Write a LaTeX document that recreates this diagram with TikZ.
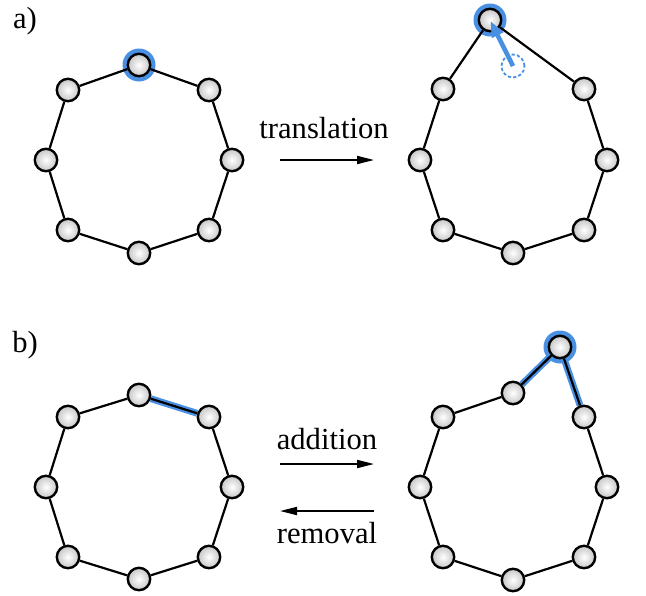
\documentclass[tikz,border=0pt]{standalone}
\usepackage{fontspec}
\setmainfont{Liberation Serif}
\usetikzlibrary{arrows.meta}
\definecolor{hblue}{RGB}{74,144,226}
\pgfdeclarelayer{bgzero}
\pgfdeclarelayer{bgone}
\pgfsetlayers{bgzero,bgone,main}
\begin{document}
\begin{tikzpicture}[x=0.5pt,y=-0.5pt,
  bead/.style={circle, draw=black, line width=1.2pt, minimum size=11.2pt, inner sep=0pt, inner color=white, outer color=gray!45},
  halo/.style={circle, fill=hblue, minimum size=16.5pt, inner sep=0pt},
  ghost/.style={circle, draw=hblue, dash pattern=on 1.6pt off 1.1pt, line width=0.9pt, minimum size=11.5pt, inner sep=0pt},
  link/.style={line width=1.1pt},
  hlink/.style={line width=3.4pt, draw=hblue},
  move/.style={line width=2.3pt, draw=hblue, -{Triangle[length=8pt,width=6pt]}, shorten >=0.5pt},
  op/.style={line width=0.9pt, -{Triangle[length=8.5pt,width=4pt]}},
  lab/.style={font=\fontsize{15.3}{18}\selectfont, inner sep=0pt}]
\useasboundingbox (0,0) rectangle (646,595);

% labels
\node[lab] (la) at (25,21) {a)};
\node[lab] (lb) at (25,345) {b)};

% ---------- a) left ----------
\foreach \n/\x/\y in {1/139/65,2/209/90,3/232/160,4/209/230,5/139/253,6/68/230,7/46/160,8/68/90}
  \node[bead] (A\n) at (\x,\y) {};
\begin{pgfonlayer}{bgzero}
  \node[halo] (hA) at (A1) {};
\end{pgfonlayer}
\begin{pgfonlayer}{bgone}
  \draw[link] (A1)--(A2)--(A3)--(A4)--(A5)--(A6)--(A7)--(A8)--(A1);
\end{pgfonlayer}

% ---------- a) right ----------
\foreach \n/\x/\y in {1/490/20,2/584/89,3/607/160,4/584/230,5/513/253,6/443/230,7/420/160,8/443/89}
  \node[bead] (B\n) at (\x,\y) {};
\node[ghost] (g) at (513,66) {};
\begin{pgfonlayer}{bgzero}
  \node[halo] (hB) at (B1) {};
\end{pgfonlayer}
\begin{pgfonlayer}{bgone}
  \draw[link] (B1)--(B2)--(B3)--(B4)--(B5)--(B6)--(B7)--(B8)--(B1);
\end{pgfonlayer}
\draw[move] (g.center) -- (B1.center);

% translation arrow
\coordinate (t1) at (280,160);
\coordinate (t2) at (374,160);
\draw[op] (t1) -- (t2);
\node[lab] (tt) at (324,128) {translation};

% ---------- b) left ----------
\foreach \n/\x/\y in {1/139/395,2/209/417,3/232/487,4/209/557,5/139/579,6/68/557,7/46/487,8/68/417}
  \node[bead] (C\n) at (\x,\y) {};
\begin{pgfonlayer}{bgzero}
  \draw[hlink] (C1) -- (C2);
\end{pgfonlayer}
\begin{pgfonlayer}{bgone}
  \draw[link] (C1)--(C2)--(C3)--(C4)--(C5)--(C6)--(C7)--(C8)--(C1);
\end{pgfonlayer}

% ---------- b) right ----------
\foreach \n/\x/\y in {0/560/347,1/513/393,2/584/417,3/607/487,4/584/557,5/513/580,6/443/557,7/420/487,8/443/417}
  \node[bead] (D\n) at (\x,\y) {};
\begin{pgfonlayer}{bgzero}
  \node[halo] (hD) at (D0) {};
  \draw[hlink] (D1) -- (D0) -- (D2);
\end{pgfonlayer}
\begin{pgfonlayer}{bgone}
  \draw[link] (D1)--(D0)--(D2)--(D3)--(D4)--(D5)--(D6)--(D7)--(D8)--(D1);
\end{pgfonlayer}

% addition / removal arrows
\coordinate (p1) at (280,464);
\coordinate (p2) at (374,464);
\coordinate (q1) at (374,511);
\coordinate (q2) at (280,511);
\draw[op] (p1) -- (p2);
\draw[op] (q1) -- (q2);
\node[lab] (ta) at (327,439) {addition};
\node[lab] (tr) at (327,533) {removal};
\end{tikzpicture}
\end{document}
